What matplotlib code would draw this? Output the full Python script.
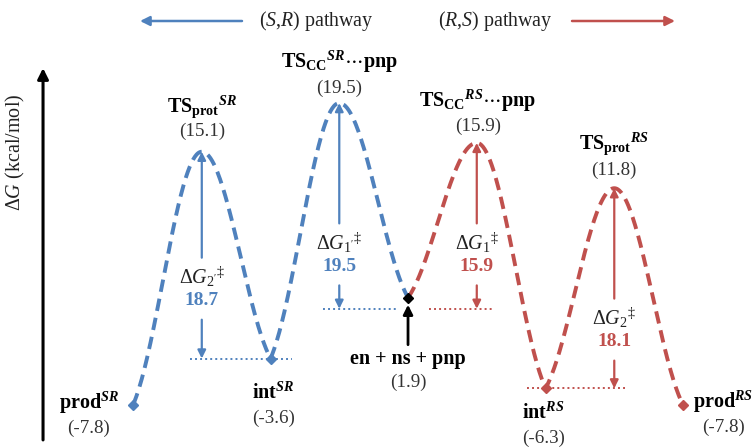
import numpy as np
import matplotlib.pyplot as plt

plt.rcParams['font.family'] = 'Liberation Serif'
plt.rcParams['mathtext.fontset'] = 'custom'
plt.rcParams['mathtext.rm'] = 'Liberation Serif'
plt.rcParams['mathtext.it'] = 'Liberation Serif:italic'
plt.rcParams['mathtext.bf'] = 'Liberation Serif:bold'
plt.rcParams['mathtext.bfit'] = 'Liberation Serif:bold:italic'

BLUE = '#4F81BD'
RED = '#C0504D'
GREY = '#333333'

# stationary points, slot index along the reaction coordinate
sr_x = [0, 1, 2, 3, 4]
sr_energy = [-7.8, 15.1, -3.6, 19.5, 1.9]
rs_x = [4, 5, 6, 7, 8]
rs_energy = [1.9, 15.9, -6.3, 11.8, -7.8]

point_x = [0, 1, 2, 3, 4, 5, 6, 7, 8]
point_energy = [-7.8, 15.1, -3.6, 19.5, 1.9, 15.9, -6.3, 11.8, -7.8]
point_names = [
    r'$\mathbf{prod}^{\mathbfit{SR}}$',
    r'$\mathbf{TS}_{\mathbf{prot}}{}^{\mathbfit{SR}}$',
    r'$\mathbf{int}^{\mathbfit{SR}}$',
    r'$\mathbf{TS}_{\mathbf{CC}}{}^{\mathbfit{SR}}\cdots\mathbf{pnp}$',
    'en + ns + pnp',
    r'$\mathbf{TS}_{\mathbf{CC}}{}^{\mathbfit{RS}}\cdots\mathbf{pnp}$',
    r'$\mathbf{int}^{\mathbfit{RS}}$',
    r'$\mathbf{TS}_{\mathbf{prot}}{}^{\mathbfit{RS}}$',
    r'$\mathbf{prod}^{\mathbfit{RS}}$',
]
# label placement (pixels from the point): name, value
name_offset = [(-44, 2), (0, 45), (3, -35), (0, 41), (0, -61),
               (1, 42), (-2, -25), (0, 45), (40, 3)]
value_offset = [(-45, -23), (0, 20), (3, -60), (0, 15), (0, -85),
                (1, 17), (-2, -50), (0, 18), (40, -22)]

# activation barriers
ref_level = 0.9   # separated reactants line, drawn just under en + ns + pnp
barrier_x = [1, 3, 5, 7]
barrier_top = [15.1, 19.5, 15.9, 11.8]
barrier_base = [-3.6, ref_level, ref_level, -6.3]
barrier_values = [18.7, 19.5, 15.9, 18.1]
barrier_names = [r"$\Delta G_{2'}{}^{\ddagger}$", r"$\Delta G_{1'}{}^{\ddagger}$",
                 r'$\Delta G_{1}{}^{\ddagger}$', r'$\Delta G_{2}{}^{\ddagger}$']
barrier_label_energy = [3.8, 6.9, 6.9, 0.1]
barrier_colors = [BLUE, BLUE, RED, RED]
base_line_span = [(0.83, 2.31), (2.76, 3.85), (4.31, 5.24), (5.73, 7.2)]

PX = 1 / 11.06  # energy units per pixel


def profile(xs, es, n=80):
    """Path through the stationary points, a bit rounder at the maxima."""
    px, py = [], []
    for i in range(len(xs) - 1):
        t = np.linspace(0, 1, n)
        cos_part = (1 - np.cos(np.pi * t)) / 2
        if es[i + 1] > es[i]:
            skew = np.sin(np.pi / 2 * t)
        else:
            skew = 1 - np.cos(np.pi / 2 * t)
        s = 0.6 * cos_part + 0.4 * skew
        px.append(xs[i] + (xs[i + 1] - xs[i]) * t)
        py.append(es[i] + (es[i + 1] - es[i]) * s)
    return np.concatenate(px), np.concatenate(py)


fig = plt.figure(figsize=(7.55, 4.48), dpi=100)
ax = fig.add_axes([0, 0, 1, 1])
ax.set_xlim(-1.935, 9.047)
ax.set_ylim(-11.69, 28.82)
ax.axis('off')

# dotted reference levels
for (x0, x1), base, c in zip(base_line_span, barrier_base, barrier_colors):
    ax.plot([x0, x1], [base, base], color=c, lw=1.4, ls=(0, (1, 1.6)))

# reaction paths
for xs, es, c in [(sr_x, sr_energy, BLUE), (rs_x, rs_energy, RED)]:
    cx, cy = profile(xs, es)
    ax.plot(cx, cy, color=c, lw=2.8, ls=(0, (3.2, 1.8)))

# end point markers
marker_colors = [BLUE, None, BLUE, None, 'black', None, RED, None, RED]
for x, e, c in zip(point_x, point_energy, marker_colors):
    if c:
        ax.plot(x, e, marker='D', ms=5.5, color=c, zorder=5)

# labels
for x, e, name, no, vo in zip(point_x, point_energy, point_names,
                              name_offset, value_offset):
    ax.annotate(name, (x, e), xytext=no, textcoords='offset pixels',
                ha='center', va='center', fontsize=14.5, fontweight='bold')
    ax.annotate(f'({e:.1f})', (x, e), xytext=vo, textcoords='offset pixels',
                ha='center', va='center', fontsize=13.7, color=GREY)

# black arrow to the separated reactants
start = point_energy[4]
ax.annotate('', xy=(4, start - 7 * PX), xytext=(4, start - 47 * PX),
            arrowprops=dict(arrowstyle='-|>', color='black', lw=2,
                            mutation_scale=14, shrinkA=0, shrinkB=0))

# barrier arrows
for x, top, base, val, name, le, c in zip(barrier_x, barrier_top, barrier_base,
                                          barrier_values, barrier_names,
                                          barrier_label_energy, barrier_colors):
    ve = le - 24 * PX
    ax.annotate('', xy=(x, top), xytext=(x, le + 19 * PX),
                arrowprops=dict(arrowstyle='-|>', color=c, lw=1.6,
                                mutation_scale=12, shrinkA=0, shrinkB=0))
    ax.annotate('', xy=(x, base), xytext=(x, ve - 19 * PX),
                arrowprops=dict(arrowstyle='-|>', color=c, lw=1.6,
                                mutation_scale=12, shrinkA=0, shrinkB=0))
    ax.text(x, le, name, ha='center', va='center', fontsize=14.5, color='#222222')
    ax.text(x, ve, f'{val:.1f}', ha='center', va='center', fontsize=14,
            fontweight='bold', color=c)

# energy axis
ax.annotate('', xy=(0.057, 0.848), xytext=(0.057, 0.018),
            xycoords='axes fraction', textcoords='axes fraction',
            arrowprops=dict(arrowstyle='-|>', color='black', lw=2.2,
                            mutation_scale=16, shrinkA=0, shrinkB=0))
fig.text(0.02, 1 - 152 / 448, r'$\Delta G$ (kcal/mol)', rotation=90,
         ha='center', va='center', fontsize=14.5, color='#222222')

# pathway key
fig.text(316 / 755, 1 - 21 / 448, r'($\mathit{S}$,$\mathit{R}$) pathway',
         ha='center', va='center', fontsize=14.3, color='#222222')
fig.text(495 / 755, 1 - 21 / 448, r'($\mathit{R}$,$\mathit{S}$) pathway',
         ha='center', va='center', fontsize=14.3, color='#222222')
ax.annotate('', xy=(140, 427), xytext=(242, 427), xycoords='figure pixels',
            textcoords='figure pixels',
            arrowprops=dict(arrowstyle='-|>', color=BLUE, lw=1.8,
                            mutation_scale=14, shrinkA=0, shrinkB=0))
ax.annotate('', xy=(675, 427), xytext=(572, 427), xycoords='figure pixels',
            textcoords='figure pixels',
            arrowprops=dict(arrowstyle='-|>', color=RED, lw=1.8,
                            mutation_scale=14, shrinkA=0, shrinkB=0))

fig.savefig('out.png', dpi=100)
